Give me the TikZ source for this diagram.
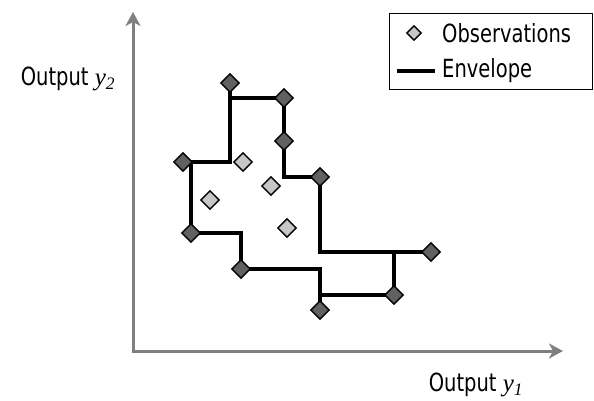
\documentclass[tikz,border=0pt]{standalone}
\usepackage{fontspec}
\setmainfont{DejaVu Sans}[FakeStretch=0.78]
\newfontfamily\serifit{Liberation Serif}
\usetikzlibrary{arrows.meta,shapes,calc,positioning,backgrounds}

\begin{document}
\begin{tikzpicture}
  [x=1pt, y=-1pt,
  every node/.style={font=\fontsize{25}{29}\selectfont},
  obs/.style={diamond, draw, line width=1.4pt, minimum size=19pt, inner sep=0pt},
  ineff/.style={obs, fill=black!22},
  eff/.style={obs, fill=black!62},
  env/.style={draw, line width=3.3pt, black},
  axis/.style={draw, line width=3pt, black!50},
 ]
  \useasboundingbox (0,0) rectangle (594,401);

  % axes
  \coordinate (origin) at (133,351);
  \coordinate (ytip) at (133,12);
  \coordinate (xtip) at (563,351);
  \draw[axis, {Stealth[length=14pt,width=15pt,inset=4pt]}-{Stealth[length=14pt,width=15pt,inset=4pt]}]
    (ytip) -- (origin) -- (xtip);
  \node (ylabel) at (68,79) {Output {\serifit\itshape y\textsubscript{2}}};
  \node (xlabel) at (476,385) {Output {\serifit\itshape y\textsubscript{1}}};

  % efficient units
  \node[eff] (d1) at (183,162) {};
  \node[eff] (d2) at (230,83) {};
  \node[eff] (d3) at (284,98) {};
  \node[eff] (d4) at (284,141) {};
  \node[eff] (d5) at (320,177) {};
  \node[eff] (d6) at (191,233) {};
  \node[eff] (d7) at (241,269) {};
  \node[eff] (d8) at (431,252) {};
  \node[eff] (d9) at (394,295) {};
  \node[eff] (d10) at (320,310) {};

  % inner units
  \node[ineff] (o1) at (243,162) {};
  \node[ineff] (o2) at (271,186) {};
  \node[ineff] (o3) at (210,200) {};
  \node[ineff] (o4) at (287,228) {};

  % envelope
  \begin{scope}[on background layer]
    \draw[env] (d1.center) -| (d2.center);
    \draw[env] (d2.center |- d3.center) -- (d3.center) -- (d4.center) |- (d5.center) |- (d8.center);
    \draw[env] (d8.center -| d9.center) -- (d9.center) -- (d9.center -| d10.center);
    \draw[env] (d7.center) -| (d10.center);
    \draw[env] (d6.center) -| (d7.center);
    \draw[env] (d1.center -| d6.center) -- (d6.center);
  \end{scope}

  % legend
  \node[draw, line width=1.3pt, minimum width=203pt, minimum height=76pt, anchor=north west] (legend) at (389,13) {};
  \node[ineff, minimum size=15pt] (legobs) at (414,33) {};
  \node[anchor=west, inner sep=0pt] (legobstext) at (442,33) {Observations};
  \coordinate (legA) at (397,71);
  \coordinate (legB) at (435,71);
  \draw[env] (legA) -- (legB);
  \node[anchor=west, inner sep=0pt] (legenvtext) at (442,71) {Envelope};
\end{tikzpicture}
\end{document}
